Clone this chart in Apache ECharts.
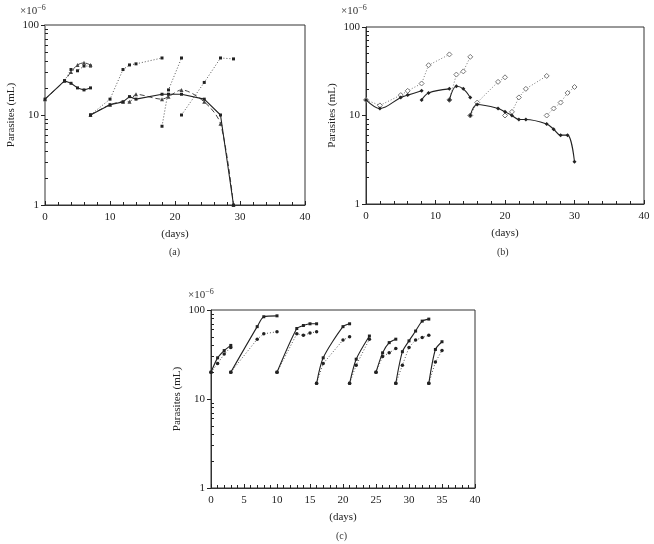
<!DOCTYPE html>
<html>
<head>
<meta charset="utf-8">
<script src="https://cdn.jsdelivr.net/npm/echarts@6/dist/echarts.min.js"></script>
<style>
  html, body { margin: 0; padding: 0; background: #fff; }
  #chart { width: 654px; height: 544px; }
</style>
</head>
<body>
<div id="chart"></div>
<script>
// panel (a) - each segment is [day, parasites x1e-6/mL]
const aSolid = [
  [[0, 15], [3, 24], [4, 22.5], [5, 20], [6, 19], [7, 20]],
  [[7, 10], [10, 13], [12, 14], [13, 16], [14, 15], [18, 17], [19, 17], [21, 17], [24.5, 15], [27, 10], [29, 1]]
]
const aDashed = [
  [[0, 15], [3, 24], [4, 30], [5, 36], [6, 38], [7, 36]],
  [[7, 10], [10, 13], [12, 14], [13, 14], [14, 17], [18, 15], [19, 16], [21, 19], [24.5, 14], [27, 8], [29, 1]]
]
const aDotted = [
  [[3, 24], [4, 32], [5, 31], [6, 35], [7, 35]],
  [[7, 10], [10, 15], [12, 32], [13, 36], [14, 37], [18, 43]],
  [[18, 7.5], [19, 19], [21, 43]],
  [[21, 10], [24.5, 23], [27, 43], [29, 42]]
]

// panel (b)
const bSolid = [
  [[0, 15], [2, 12], [5, 16], [6, 17], [8, 19]],
  [[8, 15], [9, 18], [12, 20]],
  [[12, 15], [13, 21.4], [14, 20], [15, 16]],
  [[15, 10], [16, 13.3], [19, 12], [20, 11], [21, 10], [22, 9], [23, 9], [26, 8], [27, 7], [28, 6], [29, 6], [30, 3]]
]
const bDotted = [
  [[0, 15], [2, 13], [5, 17], [6, 19], [8, 23], [9, 37], [12, 49]],
  [[12, 15], [13, 29], [14, 31.5], [15, 46]],
  [[15, 10], [16, 14], [19, 24], [20, 27]],
  [[20, 10], [21, 11], [22, 16], [23, 20], [26, 28]],
  [[26, 10], [27, 12], [28, 14], [29, 18], [30, 21]]
]

// panel (c)
const cSolid = [
  [[0, 20], [1, 29], [2, 35], [3, 40]],
  [[3, 20], [7, 65], [8, 84], [10, 86]],
  [[10, 20], [13, 62], [14, 67], [15, 70], [16, 70]],
  [[16, 15], [17, 29], [20, 65], [21, 70]],
  [[21, 15], [22, 28], [24, 51]],
  [[25, 20], [26, 33], [27, 43], [28, 47]],
  [[28, 15], [29, 34], [30, 45], [31, 58], [32, 75], [33, 79]],
  [[33, 15], [34, 36], [35, 44]]
]
const cDotted = [
  [[0, 20], [1, 25], [2, 32], [3, 38]],
  [[3, 20], [7, 47], [8, 54], [10, 57]],
  [[10, 20], [13, 54], [14, 52], [15, 55], [16, 57]],
  [[16, 15], [17, 25], [20, 46], [21, 50]],
  [[21, 15], [22, 24], [24, 47]],
  [[25, 20], [26, 30], [27, 33], [28, 37]],
  [[28, 15], [29, 24], [30, 38], [31, 46], [32, 49], [33, 52]],
  [[33, 15], [34, 26], [35, 35]]
]

const majorTicks = [1, 10, 100]
const minorTicks = [2, 3, 4, 5, 6, 7, 8, 9, 20, 30, 40, 50, 60, 70, 80, 90]
const serif = '"Liberation Serif", "DejaVu Serif", serif'

const grids = [
  { left: 45, top: 25, width: 260, height: 180 },
  { left: 366, top: 27, width: 278, height: 177 },
  { left: 211, top: 310, width: 264, height: 178 }
]

function makeSeries(segments, panel, style) {
  return segments.map(seg => {
    return {
      type: 'line',
      xAxisIndex: panel,
      yAxisIndex: panel,
      data: seg,
      smooth: style.smooth || false,
      symbol: style.symbol,
      symbolSize: style.symbolSize,
      showSymbol: true,
      silent: true,
      animation: false,
      lineStyle: { color: style.color, width: style.width, type: style.type },
      itemStyle: { color: style.fill, borderColor: style.color, borderWidth: style.border || 0 },
      z: style.z || 2
    }
  })
}

function xAxis(panel, interval, minorSplit) {
  return {
    type: 'value',
    gridIndex: panel,
    min: 0,
    max: 40,
    interval: interval,
    name: '(days)',
    nameLocation: 'middle',
    nameGap: 24,
    nameTextStyle: { fontFamily: serif, fontSize: 11, color: '#222' },
    axisLine: { lineStyle: { color: '#333' } },
    axisTick: { inside: true, length: 4, lineStyle: { color: '#222' } },
    minorTick: { show: true, splitNumber: minorSplit, length: 3, lineStyle: { color: '#222' } },
    splitLine: { show: false },
    axisLabel: { fontFamily: serif, fontSize: 11, color: '#222', margin: 7 }
  }
}

function yAxis(panel, lineColor, lineWidth) {
  return {
    type: 'log',
    gridIndex: panel,
    logBase: 10,
    min: 1,
    max: 100,
    name: 'Parasites (mL)',
    nameLocation: 'middle',
    nameGap: 28,
    nameTextStyle: { fontFamily: serif, fontSize: 11, color: '#222' },
    axisLine: { show: true, lineStyle: { color: lineColor, width: lineWidth } },
    axisTick: { inside: false, length: 4, customValues: majorTicks, lineStyle: { color: '#222' } },
    splitLine: { show: false },
    axisLabel: { fontFamily: serif, fontSize: 11, color: '#222', margin: 6, customValues: majorTicks }
  }
}

// second log axis on the same grid, only for the small inside ticks
function yMinorAxis(panel) {
  return {
    type: 'log',
    gridIndex: panel,
    position: 'left',
    logBase: 10,
    min: 1,
    max: 100,
    axisLine: { show: false },
    axisTick: { inside: true, length: 3, customValues: minorTicks, lineStyle: { color: '#222' } },
    splitLine: { show: false },
    axisLabel: { show: false }
  }
}

function scaleText(x, y) {
  return {
    type: 'text',
    left: x,
    top: y,
    style: {
      text: '×10{s|−6}',
      fontFamily: serif,
      fontSize: 11,
      fill: '#333',
      rich: { s: { fontSize: 8, verticalAlign: 'top', padding: [0, 0, 7, 0], fontFamily: serif, fill: '#333' } }
    }
  }
}

function caption(text, x, y) {
  return {
    type: 'text',
    left: x,
    top: y,
    style: { text: text, fontFamily: serif, fontSize: 10, fill: '#333' }
  }
}

const solidA = { symbol: 'rect', symbolSize: 3, color: '#222', fill: '#222', width: 1.1, type: 'solid', z: 4 }
const dashedA = { symbol: 'triangle', symbolSize: 4, color: '#444', fill: '#444', width: 1, type: [5, 3], smooth: 0.3, z: 3 }
const dottedA = { symbol: 'rect', symbolSize: 3, color: '#555', fill: '#222', width: 1, type: [1, 2], z: 2 }
const solidB = { symbol: 'diamond', symbolSize: 4, color: '#222', fill: '#222', width: 1.1, type: 'solid', smooth: 0.35, z: 4 }
const dottedB = { symbol: 'diamond', symbolSize: 5, color: '#777', fill: '#fff', border: 1, width: 1, type: [1, 2], z: 2 }
const solidC = { symbol: 'rect', symbolSize: 3, color: '#222', fill: '#222', width: 1.1, type: 'solid', smooth: 0.25, z: 4 }
const dottedC = { symbol: 'circle', symbolSize: 3.5, color: '#555', fill: '#222', width: 1, type: [1, 2], z: 2 }

const chart = echarts.init(document.getElementById('chart'), null, { renderer: 'canvas' })

const option = {
  backgroundColor: '#fff',
  animation: false,
  grid: grids.map(g => Object.assign({ show: true, borderColor: '#333', borderWidth: 1, backgroundColor: 'transparent' }, g)),
  xAxis: [xAxis(0, 10, 5), xAxis(1, 10, 5), xAxis(2, 5, 5)],
  yAxis: [
    yAxis(0, '#999', 2), yAxis(1, '#333', 1), yAxis(2, '#333', 1),
    yMinorAxis(0), yMinorAxis(1), yMinorAxis(2)
  ],
  graphic: [
    scaleText(20, 4),
    scaleText(341, 4),
    scaleText(188, 288),
    caption('(a)', 169, 247),
    caption('(b)', 497, 247),
    caption('(c)', 336, 531)
  ],
  series: [].concat(
    makeSeries(aDotted, 0, dottedA),
    makeSeries(aDashed, 0, dashedA),
    makeSeries(aSolid, 0, solidA),
    makeSeries(bDotted, 1, dottedB),
    makeSeries(bSolid, 1, solidB),
    makeSeries(cDotted, 2, dottedC),
    makeSeries(cSolid, 2, solidC)
  )
}

chart.setOption(option)
</script>
</body>
</html>
